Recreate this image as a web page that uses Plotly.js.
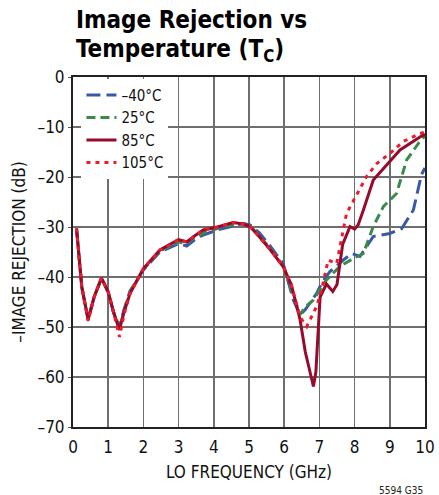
<!DOCTYPE html>
<html>
<head>
<meta charset="utf-8">
<script src="https://cdn.plot.ly/plotly-3.0.1.min.js"></script>
<style>html,body{margin:0;padding:0;background:#fff;}#chart{width:439px;height:495px;}</style>
</head>
<body>
<div id="chart"></div>
<script>
var FONT = "'DejaVu Sans Condensed', 'Liberation Sans Narrow', sans-serif";

var seriesNames = ["\u201340\u00b0C", "25\u00b0C", "85\u00b0C", "105\u00b0C"];
var titleLines = ["Image Rejection vs", "Temperature (T<sub>C</sub>)"];

var xM40 = [0.1,0.25,0.43,0.6,0.81,1.0,1.15,1.32,1.45,1.62,2.0,2.47,3.0,3.23,3.45,3.7,4.1,4.55,4.84,5.03,5.3,5.6,5.97,6.26,6.45,6.6,6.92,7.06,7.3,7.68,7.92,8.15,8.53,9.0,9.34,9.67,9.9,10.0];
var yM40 = [-30.3,-42,-48.5,-44,-40.2,-43,-47,-50,-46.5,-42.8,-38.6,-35.0,-33.3,-33.8,-32.6,-31.6,-30.6,-29.8,-29.3,-29.6,-31.2,-33.8,-37.3,-44.6,-47.6,-46.5,-43.3,-41.3,-38.9,-36.6,-35.3,-35.9,-31.9,-31.3,-30.3,-26.6,-19.5,-18.2];

var x25 = [0.1,0.25,0.43,0.6,0.81,1.0,1.15,1.32,1.45,1.62,2.0,2.47,3.0,3.23,3.45,3.7,4.1,4.55,4.84,5.03,5.3,5.6,5.97,6.2,6.45,6.6,6.83,7.2,7.58,7.96,8.25,8.53,8.82,9.19,9.48,9.9,10.0];
var y25 = [-30.3,-42,-48.5,-44,-40.2,-43,-47,-50.3,-46.8,-43.0,-38.5,-34.8,-33.0,-33.3,-32.0,-31.2,-30.3,-29.5,-29.3,-29.8,-31.8,-34.3,-37.8,-42.5,-47.5,-46.0,-44.6,-40.6,-37.9,-36.3,-35.3,-29.9,-25.9,-23.3,-16.6,-12.4,-11.9];

var x85 = [0.1,0.25,0.43,0.6,0.81,1.0,1.15,1.32,1.45,1.62,2.0,2.47,3.0,3.23,3.45,3.7,4.1,4.55,4.84,5.03,5.3,5.6,5.97,6.2,6.45,6.6,6.83,6.9,7.02,7.2,7.38,7.5,7.66,7.87,8.0,8.1,8.25,8.53,8.91,9.29,9.9,10.0];
var y85 = [-30.3,-42,-48.5,-44,-40.2,-43,-47,-50.6,-47,-43.3,-38.3,-34.6,-32.5,-33.0,-31.8,-30.6,-30.0,-29.1,-29.4,-29.9,-32.0,-34.5,-37.9,-41.5,-48.5,-55,-61.9,-59,-44,-41.4,-42.9,-41.5,-33.5,-29.9,-30.4,-29.6,-26.6,-20.6,-17.6,-14.6,-11.8,-11.5];

var x105 = [0.1,0.25,0.43,0.6,0.81,1.0,1.15,1.32,1.45,1.62,2.0,2.47,3.0,3.23,3.45,3.7,4.1,4.55,4.84,5.03,5.3,5.6,5.97,6.2,6.45,6.64,6.92,7.06,7.25,7.49,7.77,7.96,8.34,8.63,9.0,9.38,9.86,10.0];
var y105 = [-30.3,-42,-48.8,-44,-40.2,-43,-47,-52,-47.5,-43.3,-38.3,-34.6,-32.5,-33.0,-31.8,-30.6,-30.0,-29.1,-29.4,-29.9,-32.0,-34.5,-37.9,-41.5,-48.0,-49.9,-45.9,-42.6,-36.6,-37.3,-27.3,-24.9,-19.9,-17.3,-15.3,-12.9,-11.3,-11.0];

var xTickVals = [0,1,2,3,4,5,6,7,8,9,10];
var yTickVals = [-70,-60,-50,-40,-30,-20,-10,0];
var yTickLabels = ["\u201370","\u201360","\u201350","\u201340","\u201330","\u201320","\u201310","0"];

var traces = [
  {x:xM40, y:yM40, name:seriesNames[0], mode:'lines', line:{color:'#3a58a8', width:3, dash:'14px,6px'}},
  {x:x25, y:y25, name:seriesNames[1], mode:'lines', line:{color:'#3b8a4b', width:3, dash:'9px,5px'}},
  {x:x85, y:y85, name:seriesNames[2], mode:'lines', line:{color:'#960a2c', width:3}},
  {x:x105, y:y105, name:seriesNames[3], mode:'lines', line:{color:'#f0192a', width:3, dash:'4px,5px'}}
];

var layout = {
  width:439, height:495,
  margin:{l:73, r:14, t:77, b:68},
  paper_bgcolor:'#fff', plot_bgcolor:'#fff',
  font:{family:FONT, color:'#111', size:16},
  showlegend:true,
  legend:{x:0.024, y:0.995, xanchor:'left', yanchor:'top', bgcolor:'#fff', borderwidth:0,
          font:{family:FONT, size:15, color:'#111'}, tracegroupgap:0},
  xaxis:{range:[0,10], tickvals:xTickVals, showgrid:true, gridcolor:'#6e6e6e', gridwidth:1.5,
         zeroline:false, showline:true, mirror:true, linecolor:'#222', linewidth:2,
         ticks:'outside', ticklen:4, tickcolor:'rgba(0,0,0,0)', tickfont:{family:FONT, size:17, color:'#111'},
         title:{text:'LO FREQUENCY (GHz)', font:{family:FONT, size:17, color:'#111'}, standoff:10}},
  yaxis:{range:[-70,0], tickvals:yTickVals, ticktext:yTickLabels, showgrid:true, gridcolor:'#6e6e6e', gridwidth:1.5,
         zeroline:false, showline:true, mirror:true, linecolor:'#222', linewidth:2,
         ticks:'outside', ticklen:3, tickcolor:'#555', tickfont:{family:FONT, size:17, color:'#111'},
         title:{text:'\u2013IMAGE REJECTION (dB)', font:{family:FONT, size:17, color:'#111'}, standoff:8}},
  annotations:[
    {text:'<b>' + titleLines[0] + '</b>', xref:'paper', yref:'paper', x:0.003, y:1.163, xanchor:'left', yanchor:'middle',
     showarrow:false, font:{family:FONT, size:24, color:'#000'}},
    {text:'<b>' + titleLines[1] + '</b>', xref:'paper', yref:'paper', x:0.003, y:1.077, xanchor:'left', yanchor:'middle',
     showarrow:false, font:{family:FONT, size:24, color:'#000'}},
    {text:'5594 G35', xref:'paper', yref:'paper', x:1, y:-0.18, xanchor:'right', yanchor:'middle',
     showarrow:false, font:{family:FONT, size:10, color:'#222'}}
  ]
};

Plotly.newPlot('chart', traces, layout, {displayModeBar:false, staticPlot:true});
</script>
</body>
</html>
